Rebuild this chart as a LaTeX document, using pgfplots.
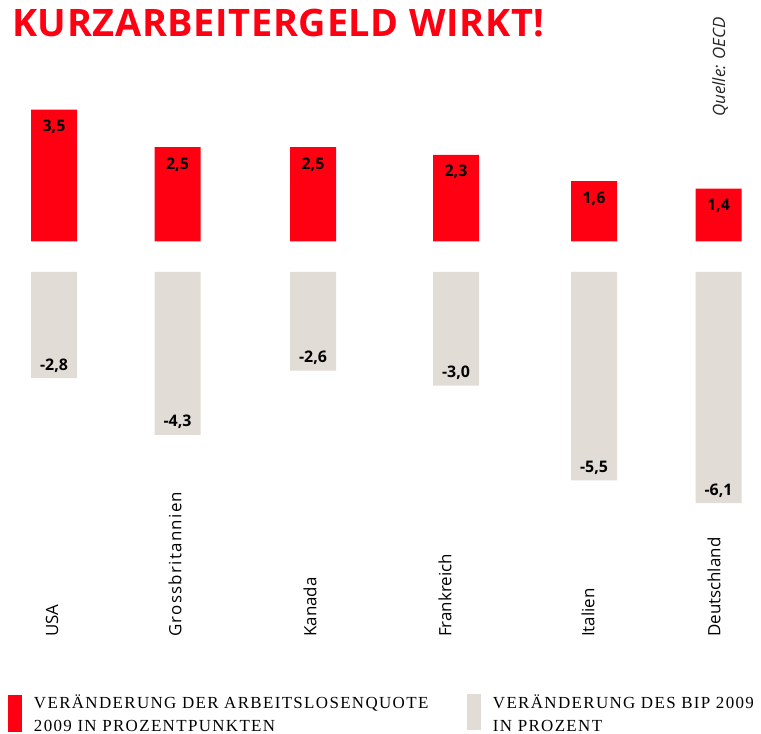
\documentclass[border=0pt]{standalone}
\usepackage{pgfplots}
\pgfplotsset{compat=1.18}
\usepackage{fontspec}
\setmainfont{Open Sans}
\newfontfamily\legfont[LetterSpace=8]{Liberation Serif}
\newfontfamily\titlefont[LetterSpace=1.7]{Open Sans}
\newfontfamily\wideopen[LetterSpace=7.5]{Open Sans}
\definecolor{myred}{RGB}{255,0,18}
\definecolor{mygray}{RGB}{226,220,214}
\begin{document}
\begin{tikzpicture}
\path[use as bounding box] (0,0) rectangle (761bp,734bp);
% --- red axis: unemployment change
\begin{axis}[
  at={(0bp,492.5bp)}, anchor=south west,
  scale only axis, width=761bp, height=241.5bp,
  xmin=0, xmax=761, ymin=0, ymax=6.4058,
  axis line style={draw=none}, xtick=\empty, ytick=\empty,
  clip=false,
]
\addplot[ybar, bar width=46bp, fill=myred, draw=none,
  point meta=y,
  nodes near coords={\pgfmathprintnumber[fixed,fixed zerofill,precision=1,use comma,assume math mode=true]{\pgfplotspointmeta}},
  every node near coord/.append style={anchor=base, yshift=-22bp, inner sep=0pt,
    font=\fontsize{16}{16}\selectfont\bfseries, text=black}]
  coordinates {(54,3.5)(177.5,2.5)(313,2.5)(456,2.3)(594,1.6)(718.5,1.4)};
\node[anchor=base west, inner sep=0pt, font=\titlefont\fontsize{38}{38}\selectfont\bfseries, text=myred]
  at (axis description cs:0.01577,0.8468) {KURZARBEITERGELD WIRKT!};
\node[rotate=90, anchor=base west, inner sep=0pt, font=\fontsize{17}{17}\selectfont\itshape, text=black!85]
  at (axis description cs:0.9527,0.5155) {Quelle: OECD};
\end{axis}
% --- gray axis: GDP change
\begin{axis}[
  at={(0bp,462bp)}, anchor=north west,
  scale only axis, width=761bp, height=365bp,
  xmin=0, xmax=761, ymin=-9.6306, ymax=0,
  axis line style={draw=none}, ytick=\empty,
  xtick={52,175,310,445,588,714},
  xticklabels={USA,{\wideopen Grossbritannien},Kanada,Frankreich,Italien,Deutschland},
  major tick length=0pt,
  xticklabel style={rotate=90, anchor=west, inner sep=0pt,
    font=\fontsize{17}{17}\selectfont, text=black},
  clip=false,
  legend columns=2,
  legend style={at={(axis description cs:0.01051,-0.2069)}, anchor=west,
    draw=none, fill=none, inner sep=0pt, outer sep=0pt,
    cells={anchor=west, inner sep=0pt, font=\legfont\fontsize{17}{23}\selectfont},
    /tikz/every odd column/.style={column sep=10bp},
    /tikz/every even column/.style={column sep=0bp}},
]
\addlegendimage{fill=myred, draw=none,
  legend image code/.code={\fill[myred] (0bp,-25bp) rectangle (14bp,12bp);}}
\addlegendentry{\parbox[c]{431bp}{\raggedright VERÄNDERUNG DER ARBEITSLOSENQUOTE\\2009 IN PROZENTPUNKTEN}}
\addplot[ybar, bar width=46bp, fill=mygray, draw=none,
  legend image code/.code={\fill[mygray] (0bp,-23bp) rectangle (14bp,13bp);},
  point meta=y,
  nodes near coords={\pgfmathprintnumber[fixed,fixed zerofill,precision=1,use comma,assume math mode=true]{\pgfplotspointmeta}},
  every node near coord/.append style={anchor=base, yshift=8bp, inner sep=0pt,
    font=\fontsize{16}{16}\selectfont\bfseries, text=black}]
  coordinates {(54,-2.8)(177.5,-4.3)(313,-2.6)(456,-3.0)(594,-5.5)(718.5,-6.1)};
\addlegendentry{\parbox[c]{274bp}{\raggedright VERÄNDERUNG DES BIP 2009\\IN PROZENT}}
\end{axis}
\end{tikzpicture}
\end{document}
